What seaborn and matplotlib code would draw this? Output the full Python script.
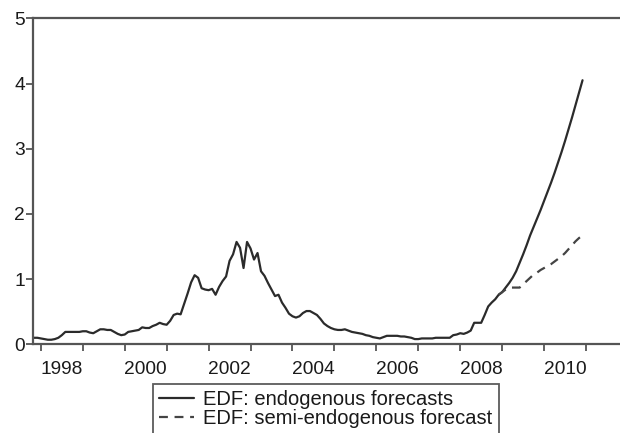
import numpy as np
import pandas as pd
import matplotlib
matplotlib.use("Agg")
import matplotlib.pyplot as plt
import seaborn as sns

# Monthly expected default frequency, Nov 1997 - Dec 2008 (history)
start_year, start_month = 1997, 11
history = [
    0.10, 0.10,                                                              # 1997 Nov-Dec
    0.09, 0.08, 0.07, 0.07, 0.08, 0.10, 0.14, 0.19, 0.19, 0.19, 0.19, 0.19,  # 1998
    0.20, 0.20, 0.18, 0.17, 0.20, 0.23, 0.23, 0.22, 0.22, 0.19, 0.16, 0.14,  # 1999
    0.15, 0.19, 0.20, 0.21, 0.22, 0.26, 0.25, 0.25, 0.28, 0.30, 0.33, 0.31,  # 2000
    0.30, 0.36, 0.45, 0.47, 0.46, 0.62, 0.78, 0.95, 1.06, 1.02, 0.86, 0.84,  # 2001
    0.83, 0.85, 0.76, 0.88, 0.97, 1.04, 1.28, 1.38, 1.57, 1.48, 1.17, 1.57,  # 2002
    1.47, 1.30, 1.40, 1.12, 1.05, 0.94, 0.84, 0.74, 0.76, 0.64, 0.56, 0.47,  # 2003
    0.43, 0.41, 0.43, 0.48, 0.51, 0.51, 0.48, 0.45, 0.39, 0.32, 0.28, 0.25,  # 2004
    0.23, 0.22, 0.22, 0.23, 0.21, 0.19, 0.18, 0.17, 0.16, 0.14, 0.13, 0.11,  # 2005
    0.10, 0.09, 0.11, 0.13, 0.13, 0.13, 0.13, 0.12, 0.12, 0.11, 0.10, 0.08,  # 2006
    0.08, 0.09, 0.09, 0.09, 0.09, 0.10, 0.10, 0.10, 0.10, 0.10, 0.14, 0.15,  # 2007
    0.17, 0.16, 0.18, 0.21, 0.33, 0.33, 0.33, 0.45, 0.58, 0.64, 0.69, 0.76,  # 2008
]

# Forecasts, Jan 2009 - Dec 2010
endogenous = [
    0.80, 0.87, 0.94, 1.02, 1.12, 1.25, 1.38, 1.52, 1.67, 1.80, 1.93, 2.06,  # 2009
    2.20, 2.34, 2.48, 2.63, 2.79, 2.95, 3.12, 3.30, 3.48, 3.67, 3.86, 4.05,  # 2010
]
semi_endogenous = [
    0.80, 0.84, 0.87, 0.87, 0.87, 0.87, 0.92, 0.97, 1.02, 1.07, 1.10, 1.14,  # 2009
    1.17, 1.20, 1.23, 1.27, 1.31, 1.35, 1.40, 1.46, 1.52, 1.58, 1.63, 1.67,  # 2010
]

year_labels = ["1998", "2000", "2002", "2004", "2006", "2008", "2010"]
y_ticks = [0, 1, 2, 3, 4, 5]
series_names = ["EDF: endogenous forecasts", "EDF: semi-endogenous forecast"]


def month_axis(n, year, month):
    idx = np.arange(n) + (month - 1)
    return year + idx / 12.0


t_hist = month_axis(len(history), start_year, start_month)
t_fc = month_axis(len(endogenous), 2009, 1)

endo_df = pd.DataFrame({
    "t": np.concatenate([t_hist, t_fc]),
    "edf": history + endogenous,
})
semi_df = pd.DataFrame({
    "t": np.concatenate([[t_hist[-1]], t_fc]),
    "edf": [history[-1]] + semi_endogenous,
})

sns.set_theme(style="white")
plt.rcParams["font.family"] = ["Liberation Sans", "DejaVu Sans"]

W, H = 620, 433
fig = plt.figure(figsize=(W / 100, H / 100), dpi=100)
left_px, top_px, bottom_px = 33.3, 18.3, 344.3
ax = fig.add_axes([left_px / W, (H - bottom_px) / H,
                   1 - left_px / W, (bottom_px - top_px) / H])

line_col = "#2b2b2b"
sns.lineplot(data=endo_df, x="t", y="edf", ax=ax, color=line_col,
             linewidth=1.6, label=series_names[0])
sns.lineplot(data=semi_df, x="t", y="edf", ax=ax, color="#444444",
             linewidth=1.6, linestyle=(0, (4, 3)), label=series_names[1])

ax.set_xlim(1997.82, 2011.81)
ax.set_ylim(0, 5)
ax.set_xlabel("")
ax.set_ylabel("")

# Year boundaries as ticks, labels centred inside every second year
ax.set_xticks(np.arange(1998, 2012))
ax.set_xticklabels([])
ax.set_xticks([int(y) + 0.5 for y in year_labels], minor=True)
ax.set_xticklabels(year_labels, minor=True)
ax.set_yticks(y_ticks)
ax.set_yticklabels([str(v) for v in y_ticks])

spine_col = "#555555"
for side in ["left", "top", "bottom"]:
    ax.spines[side].set_visible(True)
    ax.spines[side].set_color(spine_col)
    ax.spines[side].set_linewidth(1.6)
ax.spines["right"].set_visible(False)

tick_fs = 13.8
ax.tick_params(axis="x", which="major", direction="out", length=5, width=1.3,
               color=spine_col, bottom=True, pad=2)
ax.tick_params(axis="x", which="minor", length=0, pad=12,
               labelsize=tick_fs, labelcolor="#1a1a1a", bottom=True)
ax.tick_params(axis="y", which="major", direction="out", length=5, width=1.3,
               color=spine_col, left=True, labelsize=tick_fs,
               labelcolor="#1a1a1a", pad=1)

ax.get_legend().remove()
handles, labels = ax.get_legend_handles_labels()
leg = fig.legend(handles, labels, loc="upper left",
                 bbox_to_anchor=(153 / W, 1 - 384 / H),
                 frameon=True, fancybox=False, fontsize=14.5,
                 handlelength=1.75, handletextpad=0.45, borderpad=0.3,
                 labelspacing=0.0, borderaxespad=0)
leg.get_frame().set_edgecolor("#333333")
leg.get_frame().set_linewidth(1.3)
for txt in leg.get_texts():
    txt.set_color("#1a1a1a")

fig.savefig("out.png", dpi=100)
